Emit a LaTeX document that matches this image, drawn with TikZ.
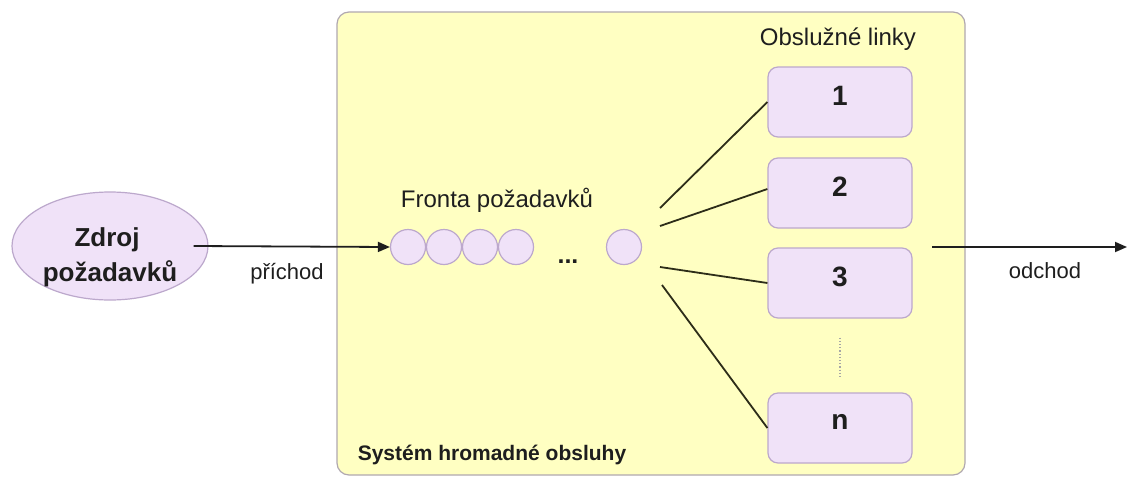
\documentclass[tikz,border=0pt]{standalone}
\usepackage{fontspec}
\setmainfont{Liberation Sans}
\usetikzlibrary{arrows.meta,shapes.geometric}
\definecolor{boxyellow}{HTML}{FFFFC2}
\definecolor{boxedge}{HTML}{B0A8B0}
\definecolor{lav}{HTML}{F0E2F8}
\definecolor{lavedge}{HTML}{BCA8CC}
\definecolor{ink}{HTML}{1E1E1E}
\tikzset{
  sysbox/.style={draw=boxedge, fill=boxyellow, rounded corners=12pt, line width=1.2pt},
  srcshape/.style={ellipse, draw=lavedge, fill=lav, line width=1.2pt, minimum width=196pt, minimum height=108pt, inner sep=0pt},
  qcircle/.style={circle, draw=lavedge, fill=lav, line width=1.2pt, minimum size=35pt, inner sep=0pt},
  server/.style={rectangle, rounded corners=10pt, draw=lavedge, fill=lav, line width=1.2pt, minimum width=144pt, minimum height=70pt, inner sep=0pt},
  boldtxt/.style={font=\bfseries\fontsize{26}{30}\selectfont, text=ink, inner sep=0pt, anchor=base},
  digit/.style={font=\bfseries\fontsize{28}{32}\selectfont, text=ink, inner sep=0pt},
  plaintxt/.style={font=\fontsize{22}{26}\selectfont, text=ink, inner sep=0pt, anchor=base},
  flow/.style={line width=1.8pt, draw=ink, -{Triangle[length=12pt,width=10pt]}},
  fan/.style={line width=1.8pt, draw=ink!85!olive},
}
\begin{document}
\begin{tikzpicture}[x=1pt,y=-1pt]
\useasboundingbox (0,0) rectangle (1127,477);
\fill[white] (0,0) rectangle (1127,477);
% system box
\draw[sysbox] (337,12) rectangle (965,475);
% source
\node[srcshape] (src) at (110,246) {};
\node[boldtxt] (srct1) at (107,246) {Zdroj};
\node[boldtxt] (srct2) at (110,281) {požadavků};
% queue
\node[qcircle] (q1) at (408,247) {};
\node[qcircle] (q2) at (444,247) {};
\node[qcircle] (q3) at (480,247) {};
\node[qcircle] (q4) at (516,247) {};
\node[qcircle] (qn) at (624,247) {};
\node[font=\bfseries\fontsize{25}{28}\selectfont, text=ink, inner sep=0pt, anchor=base] (dots) at (568,263) {...};
\node[plaintxt, font=\fontsize{24}{28}\selectfont] (qlabel) at (497,207) {Fronta požadavků};
% servers
\node[plaintxt, font=\fontsize{24}{28}\selectfont] (slabel) at (838,45) {Obslužné linky};
\node[server] (s1) at (840,102) {};
\node[server] (s2) at (840,193) {};
\node[server] (s3) at (840,283) {};
\node[server] (sn) at (840,428) {};
\node[digit] (d1) at ([yshift=6pt]s1.center) {1};
\node[digit] (d2) at ([yshift=6pt]s2.center) {2};
\node[digit] (d3) at ([yshift=6pt]s3.center) {3};
\node[digit] (dn) at ([yshift=6pt]sn.center) {n};
\draw[gray!70, line width=1.2pt, dotted, shorten <=19pt, shorten >=16pt] (s3.south) -- (sn.north);
% fan lines
\coordinate (f1) at (660,208);
\coordinate (f2) at (660,226);
\coordinate (f3) at (660,267);
\coordinate (f4) at (662,285);
\draw[fan] (f1) -- (s1.west);
\draw[fan] (f2) -- ([yshift=4pt]s2.west);
\draw[fan] (f3) -- (s3.west);
\draw[fan] (f4) -- (sn.west);
% arrivals
\draw[flow] ([xshift=-15pt]src.east) -- (q1.west);
\node[plaintxt] (arr) at (287,279) {příchod};
% departures
\coordinate (o1) at (932,247);
\coordinate (o2) at (1127,247);
\draw[flow] (o1) -- (o2);
\node[plaintxt] (dep) at (1045,278) {odchod};
% system label
\node[boldtxt, font=\bfseries\fontsize{21}{25}\selectfont] (sys) at (492,460) {Systém hromadné obsluhy};
\end{tikzpicture}
\end{document}
